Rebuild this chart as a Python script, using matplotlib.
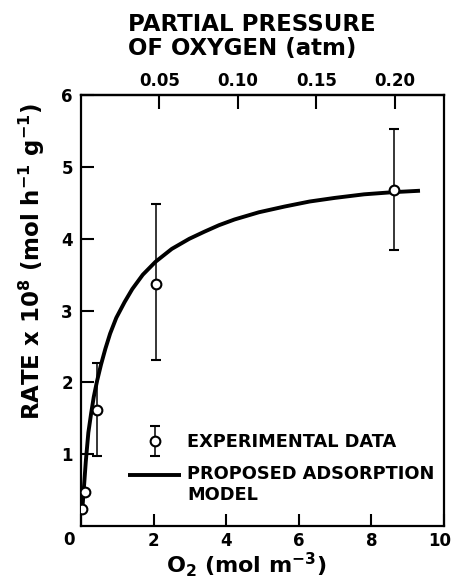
import numpy as np
import matplotlib.pyplot as plt
import matplotlib.transforms as mtransforms
from matplotlib.legend_handler import HandlerErrorbar, HandlerLine2D

plt.rcParams['font.family'] = ['DejaVu Sans']
plt.rcParams['font.weight'] = 'bold'

# experimental points (O2 in mol m^-3, rate x 1e8)
o2 = [0.03, 0.10, 0.43, 2.07, 8.62]
rate = [0.24, 0.47, 1.62, 3.37, 4.68]
rate_hi = [np.nan, np.nan, 2.27, 4.48, 5.53]
rate_lo = [np.nan, np.nan, 0.97, 2.31, 3.85]

# model curve
model_x = [0.03, 0.08, 0.13, 0.20, 0.28, 0.35, 0.44, 0.55, 0.67, 0.80, 0.97,
           1.20, 1.41, 1.70, 2.05, 2.50, 2.98, 3.40, 3.80, 4.23, 4.90, 5.61,
           6.30, 6.99, 7.80, 8.60, 9.34]
model_y = [0.20, 0.55, 0.90, 1.30, 1.58, 1.80, 2.02, 2.25, 2.47, 2.68, 2.90,
           3.12, 3.30, 3.50, 3.68, 3.86, 4.00, 4.10, 4.19, 4.27, 4.37, 4.45,
           4.52, 4.57, 4.62, 4.65, 4.67]

xticks = [0, 2, 4, 6, 8, 10]
yticks = [1, 2, 3, 4, 5, 6]
top_ticks = [0.05, 0.10, 0.15, 0.20]
top_labels = ['0.05', '0.10', '0.15', '0.20']
atm_to_mol = 43.2  # mol m^-3 per atm


class HandlerTopLine(HandlerLine2D):
    # put the line next to the first row of a two-line label
    def create_artists(self, legend, orig_handle, xdescent, ydescent, width,
                       height, fontsize, trans):
        arts = super().create_artists(legend, orig_handle, xdescent, ydescent,
                                      width, height, fontsize, trans)
        for a in arts:
            a.set_ydata(np.asarray(a.get_ydata()) + 0.55 * fontsize)
        return arts


rate = np.array(rate)
err = [rate - np.array(rate_lo), np.array(rate_hi) - rate]

fig = plt.figure(figsize=(4.53, 5.79), dpi=100)
ax = fig.add_axes([0.179, 0.0915, 0.801, 0.744])

line, = ax.plot(model_x, model_y, color='black', lw=2.8, solid_capstyle='butt',
                solid_joinstyle='round')
eb = ax.errorbar(o2, rate, yerr=err, fmt='o', color='black', mfc='white', mec='black',
                 ms=7, mew=1.5, elinewidth=1.1, capsize=3.3, capthick=1.3, zorder=3)

ax.set_xlim(0, 10)
ax.set_ylim(0, 6)
for s in ax.spines.values():
    s.set_linewidth(1.6)

ax.set_xticks(xticks)
ax.set_xticklabels(['', '2', '4', '6', '8', '10'])
ax.set_yticks(yticks)
ax.set_yticklabels([str(v) for v in yticks])
ax.tick_params(direction='in', length=9, width=1.5, labelsize=12)
ax.tick_params(axis='x', pad=4)
ax.tick_params(axis='y', pad=6)
last = ax.get_xticklabels()[-1]
last.set_transform(last.get_transform() +
                   mtransforms.ScaledTranslation(-4 / 100, 0, fig.dpi_scale_trans))
ax.text(-0.018, -0.012, '0', transform=ax.transAxes, ha='right', va='top',
        fontsize=12, fontweight='bold')

sec = ax.secondary_xaxis('top', functions=(lambda x: x / atm_to_mol,
                                           lambda p: p * atm_to_mol))
sec.set_xticks(top_ticks)
sec.set_xticklabels(top_labels)
sec.tick_params(direction='in', length=10, width=1.5, labelsize=12, pad=4)
sec.spines['top'].set_linewidth(1.6)

fig.text(0.283, 0.977, 'PARTIAL PRESSURE\nOF OXYGEN (atm)', ha='left', va='top',
         fontsize=16.5, fontweight='bold', linespacing=1.05)

ax.set_xlabel('O$_\\mathbf{2}$ (mol m$^{\\mathbf{-3}}$)', fontsize=16, fontweight='bold')
ax.xaxis.set_label_coords(0.455, -0.057)
ax.set_ylabel('RATE x 10$^{\\mathbf{8}}$ (mol h$^{\\mathbf{-1}}$ g$^{\\mathbf{-1}}$)',
              fontsize=16.5, fontweight='bold')
ax.yaxis.set_label_coords(-0.095, 0.615)

ax.legend([eb, line], ['EXPERIMENTAL DATA', 'PROPOSED ADSORPTION\nMODEL'],
          loc='lower left', bbox_to_anchor=(0.085, 0.015), frameon=False,
          fontsize=12.8, handlelength=3.0, handletextpad=0.35, labelspacing=0.75,
          handler_map={type(eb): HandlerErrorbar(yerr_size=0.85),
                       type(line): HandlerTopLine()})

fig.savefig('out.png', dpi=100)
